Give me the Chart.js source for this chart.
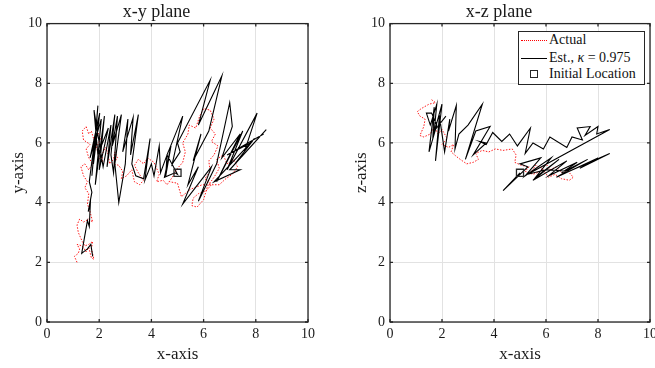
<!DOCTYPE html>
<html>
<head>
<meta charset="utf-8">
<script src="https://cdn.jsdelivr.net/npm/chart.js@4/dist/chart.umd.min.js"></script>
<style>
html, body { margin: 0; padding: 0; background: #fff; width: 655px; height: 368px; overflow: hidden; }
#left { position: absolute; left: 0; top: 0; }
#right { position: absolute; left: 330px; top: 0; }
#legend { position: absolute; left: 518px; top: 31px; width: 125px; height: 52px; border: 1.3px solid #262626; background: #fff;
  font: 14px "Liberation Serif", serif; color: #111; }
#legend .row { position: absolute; left: 2px; height: 16px; line-height: 16px; white-space: nowrap; }
#legend .sample { display: inline-block; width: 26px; height: 16px; vertical-align: top; position: relative; margin-right: 2px; }
#legend .sample span { position: absolute; }
</style>
</head>
<body>
<canvas id="left" width="330" height="368"></canvas>
<canvas id="right" width="335" height="368"></canvas>
<div id="legend">
  <div class="row" style="top:0px"><span class="sample"><span style="left:0;right:0;top:8px;border-top:1px dotted #ff0000"></span></span>Actual</div>
  <div class="row" style="top:18px"><span class="sample"><span style="left:0;right:0;top:8px;border-top:1px solid #000"></span></span>Est., <i>κ</i> = 0.975</div>
  <div class="row" style="top:34px"><span class="sample"><span style="left:9px;top:4px;width:6px;height:6px;border:1.3px solid #262626"></span></span>Initial Location</div>
</div>
<script>
var tickVals = [0, 2, 4, 6, 8, 10];
var initial = [5, 5];

// x-y plane
var xyActual = [
  [1.15,2.0],[1.05,2.2],[1.2,2.3],[1.25,2.45],[1.15,2.6],[1.35,2.55],[1.5,2.35],[1.6,2.5],[1.7,2.15],[1.8,2.1],
  [1.7,2.45],[1.75,2.7],[1.6,2.6],[1.45,2.55],[1.35,2.7],[1.2,3.0],[1.15,3.25],[1.25,3.45],[1.4,3.35],[1.6,3.45],
  [1.75,3.35],[1.65,3.7],[1.55,3.95],[1.6,4.3],[1.45,4.5],[1.55,4.7],[1.4,4.9],[1.3,5.2],[1.45,5.3],[1.6,5.1],
  [1.75,5.3],[1.6,5.5],[1.5,5.8],[1.65,5.95],[1.4,6.1],[1.35,6.4],[1.5,6.55],[1.6,6.3],[1.7,6.4],[1.8,6.1],
  [1.95,6.35],[2.05,6.15],[1.9,5.85],[2.0,5.5],[2.15,5.3],[2.1,5.6],[2.25,5.85],[2.35,5.6],[2.4,5.3],[2.55,5.45],
  [2.6,5.7],[2.7,5.5],[2.55,5.3],[2.75,5.25],[2.9,5.05],[2.85,4.8],[3.05,4.9],[3.25,5.1],[3.35,4.7],[3.55,4.6],
  [3.7,4.75],[3.5,5.0],[3.35,5.25],[3.5,5.45],[3.7,5.3],[3.85,5.5],[4.1,5.35],[4.3,4.95],[4.2,4.7],[4.45,4.75],
  [4.6,4.6],[4.8,4.85],[5.0,5.15],[5.2,5.35],[5.3,5.7],[5.2,6.0],[5.4,6.3],[5.45,6.6],[5.7,6.5],[5.85,6.9],
  [6.0,7.15],[6.25,7.1],[6.4,6.8],[6.25,6.5],[6.45,6.3],[6.3,6.05],[6.55,5.9],[6.4,5.6],[6.2,5.4],[6.25,5.05],
  [6.05,4.8],[6.3,4.6],[6.1,4.4],[5.8,4.3],[5.6,4.15],[5.55,3.9],[5.75,3.85],[6.0,4.1],[6.15,4.55],[6.4,4.85],
  [6.6,5.15],[6.5,5.45],[6.75,5.6],[6.9,5.3],[7.15,5.45],[7.3,5.2],[7.1,4.95],[6.85,4.8],[6.6,4.6],[5.95,4.6],
  [5.5,4.45],[5.15,4.2],[5.0,4.65],[4.7,4.7]
];
var xyEst = [
  [1.75,2.2],[1.68,2.6],[1.55,2.45],[1.4,2.35],[1.33,2.3],[1.45,2.9],[1.55,3.4],[1.62,3.2],[1.66,3.95],[1.58,3.7],
  [1.72,4.35],[1.62,4.7],[1.9,6.6],[1.72,4.9],[1.95,7.25],[1.78,5.3],[2.02,7.0],[1.65,5.5],[2.08,6.8],[1.85,4.6],
  [2.2,6.9],[2.0,5.1],[2.35,6.5],[1.95,5.6],[1.8,7.1],[2.15,5.2],[2.45,6.6],[2.3,5.2],[2.6,6.95],[2.45,5.6],
  [2.55,5.0],[2.7,6.9],[2.5,5.9],[2.85,6.95],[2.6,5.3],[2.75,4.0],[3.0,5.3],[3.1,6.8],[2.9,5.7],[3.3,6.85],
  [3.2,5.6],[3.5,6.95],[3.25,5.3],[3.4,4.9],[3.7,4.8],[3.95,6.15],[3.75,4.75],[4.0,5.3],[4.1,4.9],[4.3,5.9],
  [4.35,5.0],[4.6,5.6],[4.55,4.9],[4.75,5.9],[4.5,4.85],[4.9,5.0],[5.0,4.95],[4.6,5.6],[5.2,6.9],[4.8,5.3],
  [5.1,5.7],[5.0,6.0],[6.25,8.1],[5.8,6.6],[6.4,7.7],[6.7,8.25],[6.2,6.4],[5.6,5.4],[5.9,6.3],[5.4,4.6],
  [5.8,5.2],[5.2,3.95],[6.3,5.2],[5.8,4.05],[6.5,5.3],[7.0,7.35],[7.1,6.55],[6.7,5.5],[7.4,6.3],[6.5,4.7],
  [7.5,6.4],[6.9,5.1],[8.05,7.0],[7.6,5.8],[7.95,6.15],[7.2,5.3],[8.4,6.45],[7.0,5.1],[7.4,5.1],[6.4,4.7],
  [7.8,6.0],[6.9,5.6],[8.3,6.3]
];

// x-z plane
var xzActual = [
  [1.6,7.45],[1.75,7.35],[1.5,7.3],[1.2,7.15],[1.05,7.05],[1.15,6.9],[1.35,6.8],[1.3,6.55],[1.15,6.25],[1.3,6.2],
  [1.55,6.3],[1.7,6.55],[1.85,6.3],[2.0,6.45],[2.2,6.15],[2.0,5.95],[2.25,5.85],[2.45,5.95],[2.35,5.7],[2.55,5.55],
  [2.7,5.45],[2.95,5.3],[3.2,5.35],[3.4,5.45],[3.3,5.65],[3.55,5.75],[3.8,5.7],[4.05,5.8],[4.35,5.75],[4.7,5.8],
  [4.85,5.6],[4.8,5.35],[5.05,5.25],[5.35,5.2],[5.2,5.05],[5.5,4.95],[5.8,5.05],[6.0,5.3],[6.15,5.1],[6.4,5.2],
  [6.6,5.0],[6.85,5.05],[7.05,4.85],[6.9,4.75],[6.6,4.8],[6.35,4.95],[6.1,4.85],[5.85,5.15],[5.6,5.25],[5.45,5.05]
];
var xzEst = [
  [5.0,5.0],[4.35,4.4],[5.3,5.2],[5.0,5.3],[5.8,5.5],[5.2,4.9],[6.2,5.5],[5.6,4.85],[6.5,5.45],[5.5,4.75],
  [6.8,5.4],[6.1,4.9],[7.2,5.35],[6.6,5.0],[7.6,5.45],[6.4,4.85],[8.0,5.5],[7.3,5.15],[8.45,5.65],[6.9,5.05],
  [6.0,5.1],[5.3,4.95],[8.45,6.45],[7.95,6.3],[8.0,6.55],[7.5,6.25],[7.7,6.55],[7.2,6.5],[7.4,6.1],[7.0,6.2],
  [6.8,5.85],[6.15,6.2],[5.9,5.8],[5.5,6.0],[5.2,5.65],[5.4,6.5],[4.9,5.9],[4.6,6.3],[4.3,6.05],[3.95,6.35],
  [3.7,5.95],[3.45,6.05],[3.7,6.0],[3.2,5.6],[3.85,6.55],[3.3,6.4],[2.9,5.45],[3.55,7.3],[3.0,6.6],[2.65,6.3],
  [2.5,5.8],[2.55,7.25],[2.25,6.4],[2.3,6.8],[2.1,5.7],[1.9,6.9],[1.75,5.4],[2.0,7.3],[1.65,6.2],[1.7,7.2],
  [1.5,5.7],[1.8,6.6],[1.6,7.0],[1.4,7.0],[1.55,6.6],[1.8,7.3],[1.7,6.4],[2.15,6.9]
];

var fontFamily = '"Liberation Serif", serif';
var textColor = '#1a1a1a';

function toPts(arr) {
  return arr.map(function (p) { return { x: p[0], y: p[1] }; });
}

// MATLAB style box with inward ticks
var boxFrame = {
  id: 'boxFrame',
  afterDatasetsDraw: function (chart) {
    var ctx = chart.ctx, a = chart.chartArea, sx = chart.scales.x, sy = chart.scales.y;
    ctx.save();
    ctx.strokeStyle = '#262626';
    ctx.lineWidth = 1.3;
    ctx.beginPath();
    tickVals.forEach(function (v) {
      var px = sx.getPixelForValue(v), py = sy.getPixelForValue(v);
      ctx.moveTo(px, a.bottom); ctx.lineTo(px, a.bottom - 3);
      ctx.moveTo(px, a.top); ctx.lineTo(px, a.top + 3);
      ctx.moveTo(a.left, py); ctx.lineTo(a.left + 3, py);
      ctx.moveTo(a.right, py); ctx.lineTo(a.right - 3, py);
    });
    ctx.stroke();
    ctx.strokeRect(a.left, a.top, a.right - a.left, a.bottom - a.top);
    ctx.restore();
  }
};

function makeChart(id, title, yTitle, actual, est, padLeft, yWidth, padRight) {
  return new Chart(document.getElementById(id), {
    type: 'scatter',
    data: {
      datasets: [
        { label: 'Initial Location', data: [{ x: initial[0], y: initial[1] }], pointStyle: 'rect', pointRadius: 5,
          borderColor: '#262626', borderWidth: 1.3, backgroundColor: 'rgba(0,0,0,0)' },
        { label: 'Est.', data: toPts(est), showLine: true, borderColor: '#000', borderWidth: 1.1, pointRadius: 0 },
        { label: 'Actual', data: toPts(actual), showLine: true, borderColor: '#ff0000', borderWidth: 0.9,
          borderDash: [1.5, 1.5], pointRadius: 0 }
      ]
    },
    options: {
      responsive: false,
      animation: false,
      layout: { padding: { left: padLeft, right: padRight, top: 0, bottom: 0 } },
      plugins: {
        legend: { display: false },
        tooltip: { enabled: false },
        title: { display: true, text: title, color: textColor, font: { family: fontFamily, size: 18, weight: 'normal' },
          padding: { top: 1, bottom: 1 } }
      },
      scales: {
        x: {
          type: 'linear', min: 0, max: 10,
          ticks: { stepSize: 2, padding: 4, color: textColor, maxRotation: 0, font: { family: fontFamily, size: 14 } },
          grid: { color: '#e2e2e2', drawTicks: false },
          border: { display: false },
          title: { display: true, text: 'x-axis', color: textColor, font: { family: fontFamily, size: 17 }, padding: { top: 0, bottom: 3 } },
          afterFit: function (s) { s.height = 46; }
        },
        y: {
          type: 'linear', min: 0, max: 10,
          ticks: { stepSize: 2, padding: 5, color: textColor, font: { family: fontFamily, size: 14 } },
          grid: { color: '#e2e2e2', drawTicks: false },
          border: { display: false },
          title: { display: true, text: yTitle, color: textColor, font: { family: fontFamily, size: 17 }, padding: { top: 3, bottom: 0 } },
          afterFit: function (s) { s.width = yWidth; }
        }
      }
    },
    plugins: [boxFrame]
  });
}

makeChart('left', 'x-y plane', 'y-axis', xyActual, xyEst, 5, 42, 22);
makeChart('right', 'x-z plane', 'z-axis', xzActual, xzEst, 18, 42, 15);
</script>
</body>
</html>
